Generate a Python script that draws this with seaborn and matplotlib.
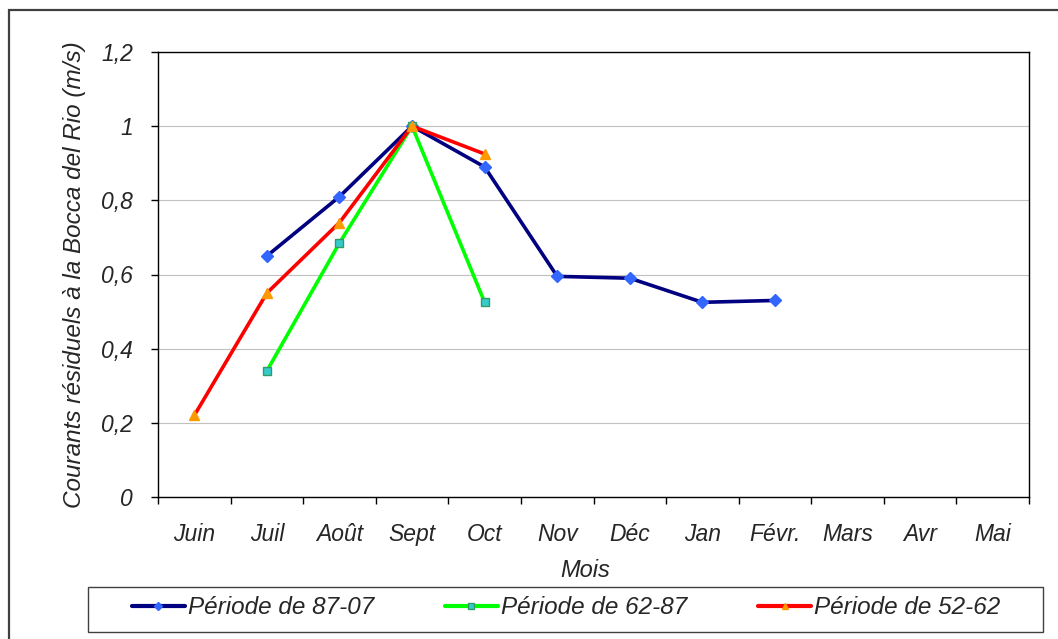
import matplotlib
matplotlib.use("Agg")
import matplotlib.pyplot as plt
from matplotlib.patches import Rectangle
from matplotlib.ticker import FixedLocator, FuncFormatter
import numpy as np
import pandas as pd
import seaborn as sns

# Months of the hydrological year
months = ["Juin", "Juil", "Août", "Sept", "Oct", "Nov", "Déc", "Jan", "Févr.", "Mars", "Avr", "Mai"]

# Residual currents (m/s), one list per period, None where there is no value
p87_07 = [None, 0.65, 0.81, 1.0, 0.89, 0.595, 0.59, 0.525, 0.53, None, None, None]
p62_87 = [None, 0.34, 0.685, 1.0, 0.525, None, None, None, None, None, None, None]
p52_62 = [0.22, 0.55, 0.74, 1.0, 0.925, None, None, None, None, None, None, None]

labels = ["Période de 87-07", "Période de 62-87", "Période de 52-62"]
yticks = [0, 0.2, 0.4, 0.6, 0.8, 1.0, 1.2]

sns.set_theme(style="white")
plt.rcParams["font.family"] = ["Liberation Sans", "DejaVu Sans"]
plt.rcParams["font.style"] = "italic"

fig = plt.figure(figsize=(10.58, 6.39), dpi=100)
ax = fig.add_axes([158 / 1058, 1 - 497 / 639, (1029 - 158) / 1058, (497 - 52) / 639])

styles = [
    dict(color="#000080", marker="D", markerfacecolor="#3366ff", markeredgecolor="#3366ff", markersize=6),
    dict(color="#00ff00", marker="s", markerfacecolor="#33cccc", markeredgecolor="#339966", markersize=6),
    dict(color="#ff0000", marker="^", markerfacecolor="#ff9900", markeredgecolor="#ff9900", markersize=7.5),
]

pos = np.arange(len(months))
for vals, lab, st in zip([p87_07, p62_87, p52_62], labels, styles):
    df = pd.DataFrame({"x": pos, "y": pd.to_numeric(pd.Series(vals), errors="coerce")}).dropna()
    sns.lineplot(data=df, x="x", y="y", ax=ax, label=lab, estimator=None, sort=False,
                 linewidth=2.6, markeredgewidth=1.0, **st)

ax.set_xlim(-0.5, len(months) - 0.5)
ax.set_ylim(0, 1.2)

# Category boundaries carry the tick marks, centres carry the labels
ax.xaxis.set_major_locator(FixedLocator(np.arange(-0.5, len(months), 1.0)))
ax.xaxis.set_major_formatter(FuncFormatter(lambda v, p: ""))
ax.set_xticks(pos, minor=True)
ax.set_xticklabels(months, minor=True, fontsize=16.5)
ax.tick_params(axis="x", which="major", direction="out", length=5, width=1, color="black", bottom=True)
ax.tick_params(axis="x", which="minor", length=0, pad=19, bottom=True)

ax.set_yticks(yticks)
ax.set_yticklabels([f"{v:g}".replace(".", ",") for v in yticks], fontsize=16.5)
ax.tick_params(axis="y", direction="out", length=5, width=1, color="black", left=True, pad=13)

ax.yaxis.grid(True, color="#c0c0c0", linewidth=0.8)
ax.xaxis.grid(False)
for s in ax.spines.values():
    s.set_visible(True)
    s.set_color("black")
    s.set_linewidth(1.0)

ax.set_ylabel("Courants résiduels à la Bocca del Rio (m/s)", fontsize=17.5)
ax.yaxis.label.set_va("center")
ax.yaxis.set_label_coords((75 - 158) / 871, 0.5)
ax.set_xlabel("Mois", fontsize=17)
ax.xaxis.label.set_va("center")
ax.xaxis.set_label_coords(0.491, -0.166)

handles, labs = ax.get_legend_handles_labels()
leg = ax.legend(handles, labs, ncol=3, frameon=False, fontsize=17.5,
                loc="center", bbox_to_anchor=(566 / 1058, 1 - 608 / 639),
                bbox_transform=fig.transFigure, handlelength=2.2, handletextpad=0.12,
                columnspacing=2.9)
for h in leg.legend_handles:
    h.set_markersize(4.5)
    h.set_linewidth(3.0)

# Legend box and outer chart frame
fig.patches.append(Rectangle((88 / 1058, 1 - 632 / 639), (1043 - 88) / 1058, 45 / 639,
                             transform=fig.transFigure, fill=False, edgecolor="#404040",
                             linewidth=1.0))
fig.patches.append(Rectangle((9 / 1058, -0.1), 1.2, 0.1 + (1 - 10 / 639),
                             transform=fig.transFigure, fill=False, edgecolor="#404040",
                             linewidth=1.6, clip_on=False))

fig.savefig("out.png", dpi=100)
